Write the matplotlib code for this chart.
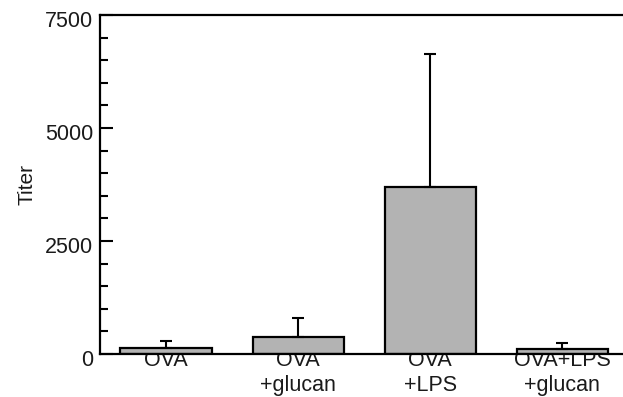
import matplotlib
matplotlib.use("Agg")
import matplotlib.pyplot as plt
from matplotlib.ticker import MultipleLocator
from matplotlib.transforms import ScaledTranslation

plt.rcParams['font.family'] = ['Liberation Sans', 'DejaVu Sans']

categories = ["OVA", "OVA\n+glucan", "OVA\n+LPS", "OVA+LPS\n+glucan"]
titers = [140, 370, 3700, 120]
errors = [150, 420, 2930, 115]
yticks = [0, 2500, 5000, 7500]

fig = plt.figure(figsize=(6.23, 3.97), dpi=100)
ax = fig.add_axes([100 / 623, 43 / 397, 523 / 623, 339 / 397])

x = list(range(len(categories)))
ax.bar(x, titers, width=0.69, color="#b3b3b3", edgecolor="black", linewidth=1.6, zorder=2)
ax.errorbar(x, titers, yerr=[[0] * len(errors), errors], fmt="none", ecolor="black",
            elinewidth=1.5, capsize=4.3, capthick=1.5, zorder=3)

ax.set_xlim(-0.5, 3.46)
ax.set_ylim(0, 7500)
ax.set_yticks(yticks)
ax.yaxis.set_minor_locator(MultipleLocator(500))
ax.tick_params(axis="y", which="major", direction="in", length=9, width=1.5,
               labelsize=15.5, pad=5)
ax.tick_params(axis="y", which="minor", direction="in", length=6, width=1.5)
shift = ScaledTranslation(0, -4 / 100, fig.dpi_scale_trans)
for lbl in ax.get_yticklabels():
    lbl.set_transform(lbl.get_transform() + shift)
    lbl.set_color("#1a1a1a")

ax.set_xticks(x)
ax.set_xticklabels(categories, fontsize=15.5, linespacing=1.25, color="#1a1a1a")
ax.tick_params(axis="x", length=0, pad=-3)
for lbl in ax.get_xticklabels():
    lbl.set_zorder(5)

for side in ["left", "top", "bottom"]:
    ax.spines[side].set_linewidth(1.6)
ax.spines["right"].set_visible(False)

ax.set_ylabel("Titer", fontsize=15, labelpad=6, color="#1a1a1a")

fig.savefig("out.png", dpi=100)
